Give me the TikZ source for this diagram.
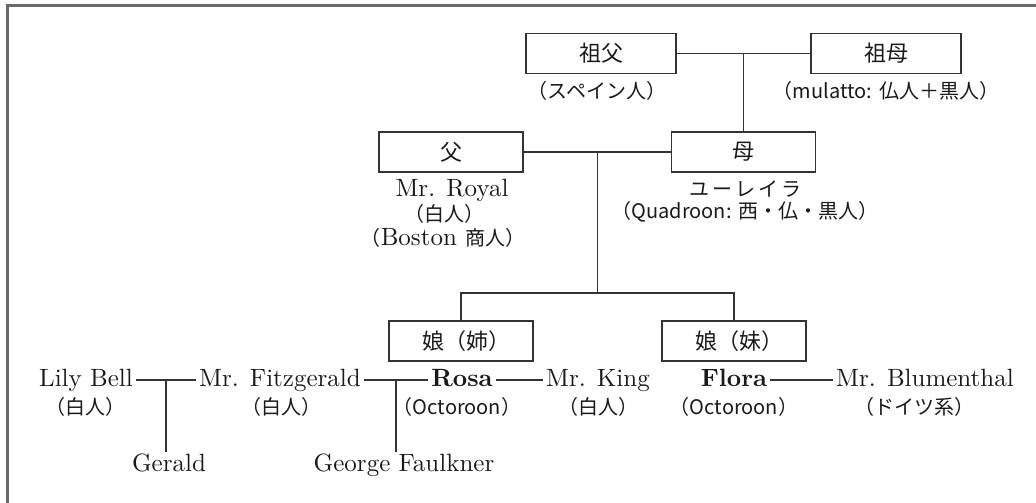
\documentclass[tikz,border=0pt]{standalone}
\usepackage{fontspec}
\setmainfont{lmroman10-regular}[Extension=.otf, BoldFont=lmroman10-bold]
\newfontfamily\cjk{Noto Sans CJK JP}
\usetikzlibrary{calc}
\newcommand\lp{\makebox[0.5em][r]{（}}
\newcommand\rp{\makebox[0.5em][l]{）}}
\definecolor{ln}{HTML}{333333}
\definecolor{fr}{HTML}{6A6A6A}
\definecolor{tx}{HTML}{1A1A1A}
\begin{document}
\begin{tikzpicture}[x=1pt,y=-1pt,
  every node/.style={text=tx},
  famkbox/.style={draw=ln, line width=1.6pt, minimum width=144pt, minimum height=40pt, inner sep=0pt, font=\fontsize{22}{26}\cjk},
  person/.style={font=\fontsize{25}{30}\selectfont, text height=19pt, text depth=6pt, inner xsep=3pt, inner ysep=0pt},
  annot/.style={font=\fontsize{20}{24}\cjk, inner sep=0pt},
  conn/.style={draw=ln, line width=1.4pt},
  frameline/.style={draw=fr, line width=2.2pt}]
\useasboundingbox (0,0) rectangle (1036,503);
\draw[frameline] (7.5,503) -- (7.5,5.5) -- (1036,5.5);

% grandparents
\node[famkbox, minimum width=150pt] (gf) at (601,53.5) {祖父};
\node[annot] (gfn) at (597,90.5) {\lp スペイン人\rp};
\node[famkbox, minimum width=150pt] (gm) at (886,53.5) {祖母};
\node[annot] (gmn) at (886,90.5) {\lp mulatto:\hspace{0.35em}仏人＋黒人\rp};

% parents
\node[famkbox] (f) at (451,152) {父};
\node[famkbox] (m) at (743.5,152) {母};
\node[person] (royal) at (452,190) {Mr. Royal};
\node[annot] (royaln) at (444,214) {\lp 白人\rp};
\node[person] (boston) at (443,238.5) {{\cjk\fontsize{20}{24}\selectfont\lp}Boston {\cjk\fontsize{20}{24}\selectfont 商人\rp}};
\node[annot] (eulalie) at (745,189) {ユ\hspace{3pt}ー\hspace{3pt}レ\hspace{3pt}イ\hspace{3pt}ラ};
\node[annot] (eulalien) at (745,212) {\lp Quadroon:\hspace{0.35em}西・仏・黒人\rp};

% daughters
\node[famkbox] (d1) at (461,341) {娘（姉\rp};
\node[famkbox] (d2) at (734,341) {娘（妹\rp};

% bottom row
\node[person] (lily) at (86,380) {Lily Bell};
\node[annot] (lilyn) at (85,407) {\lp 白人\rp};
\node[person] (fitz) at (280,380) {Mr. Fitzgerald};
\node[annot] (fitzn) at (281,407) {\lp 白人\rp};
\node[person] (rosa) at (462,380) {\bfseries Rosa};
\node[annot] (rosan) at (457,407) {\lp Octoroon\rp};
\node[person] (king) at (598,380) {Mr. King};
\node[annot] (kingn) at (598,407) {\lp 白人\rp};
\node[person] (flora) at (734,380) {\bfseries Flora};
\node[annot] (floran) at (734,407) {\lp Octoroon\rp};
\node[person] (blum) at (925,380) {Mr. Blumenthal};
\node[annot] (blumn) at (914,407) {\lp ドイツ系\rp};
\node[person] (gerald) at (169,464.5) {Gerald};
\node[person] (george) at (404,464.5) {George Faulkner};

% connectors
\draw[conn] (gf) -- (gm);
\coordinate (gp) at ($(gf.east)!0.5!(gm.west)$);
\draw[conn] (gp) -- (gp |- m.north);
\draw[conn] (f) -- (m);
\coordinate (pp) at ($(f.east)!0.5!(m.west)$);
\coordinate (br) at ($(pp)+(0,141)$);
\draw[conn] (pp) -- (br);
\draw[conn] (d1.north) |- (br) -| (d2.north);

\draw[conn] (lily) -- (fitz);
\coordinate (lf) at ($(lily.east)!0.5!(fitz.west)$);
\draw[conn] (lf) -- (lf |- gerald.north);
\draw[conn] (fitz) -- (rosa);
\coordinate (fro) at ($(fitz.east)!0.5!(rosa.west)$);
\draw[conn] (fro) -- (fro |- george.north);
\draw[conn] (rosa) -- (king);
\draw[conn] (flora) -- (blum);
\end{tikzpicture}
\end{document}
